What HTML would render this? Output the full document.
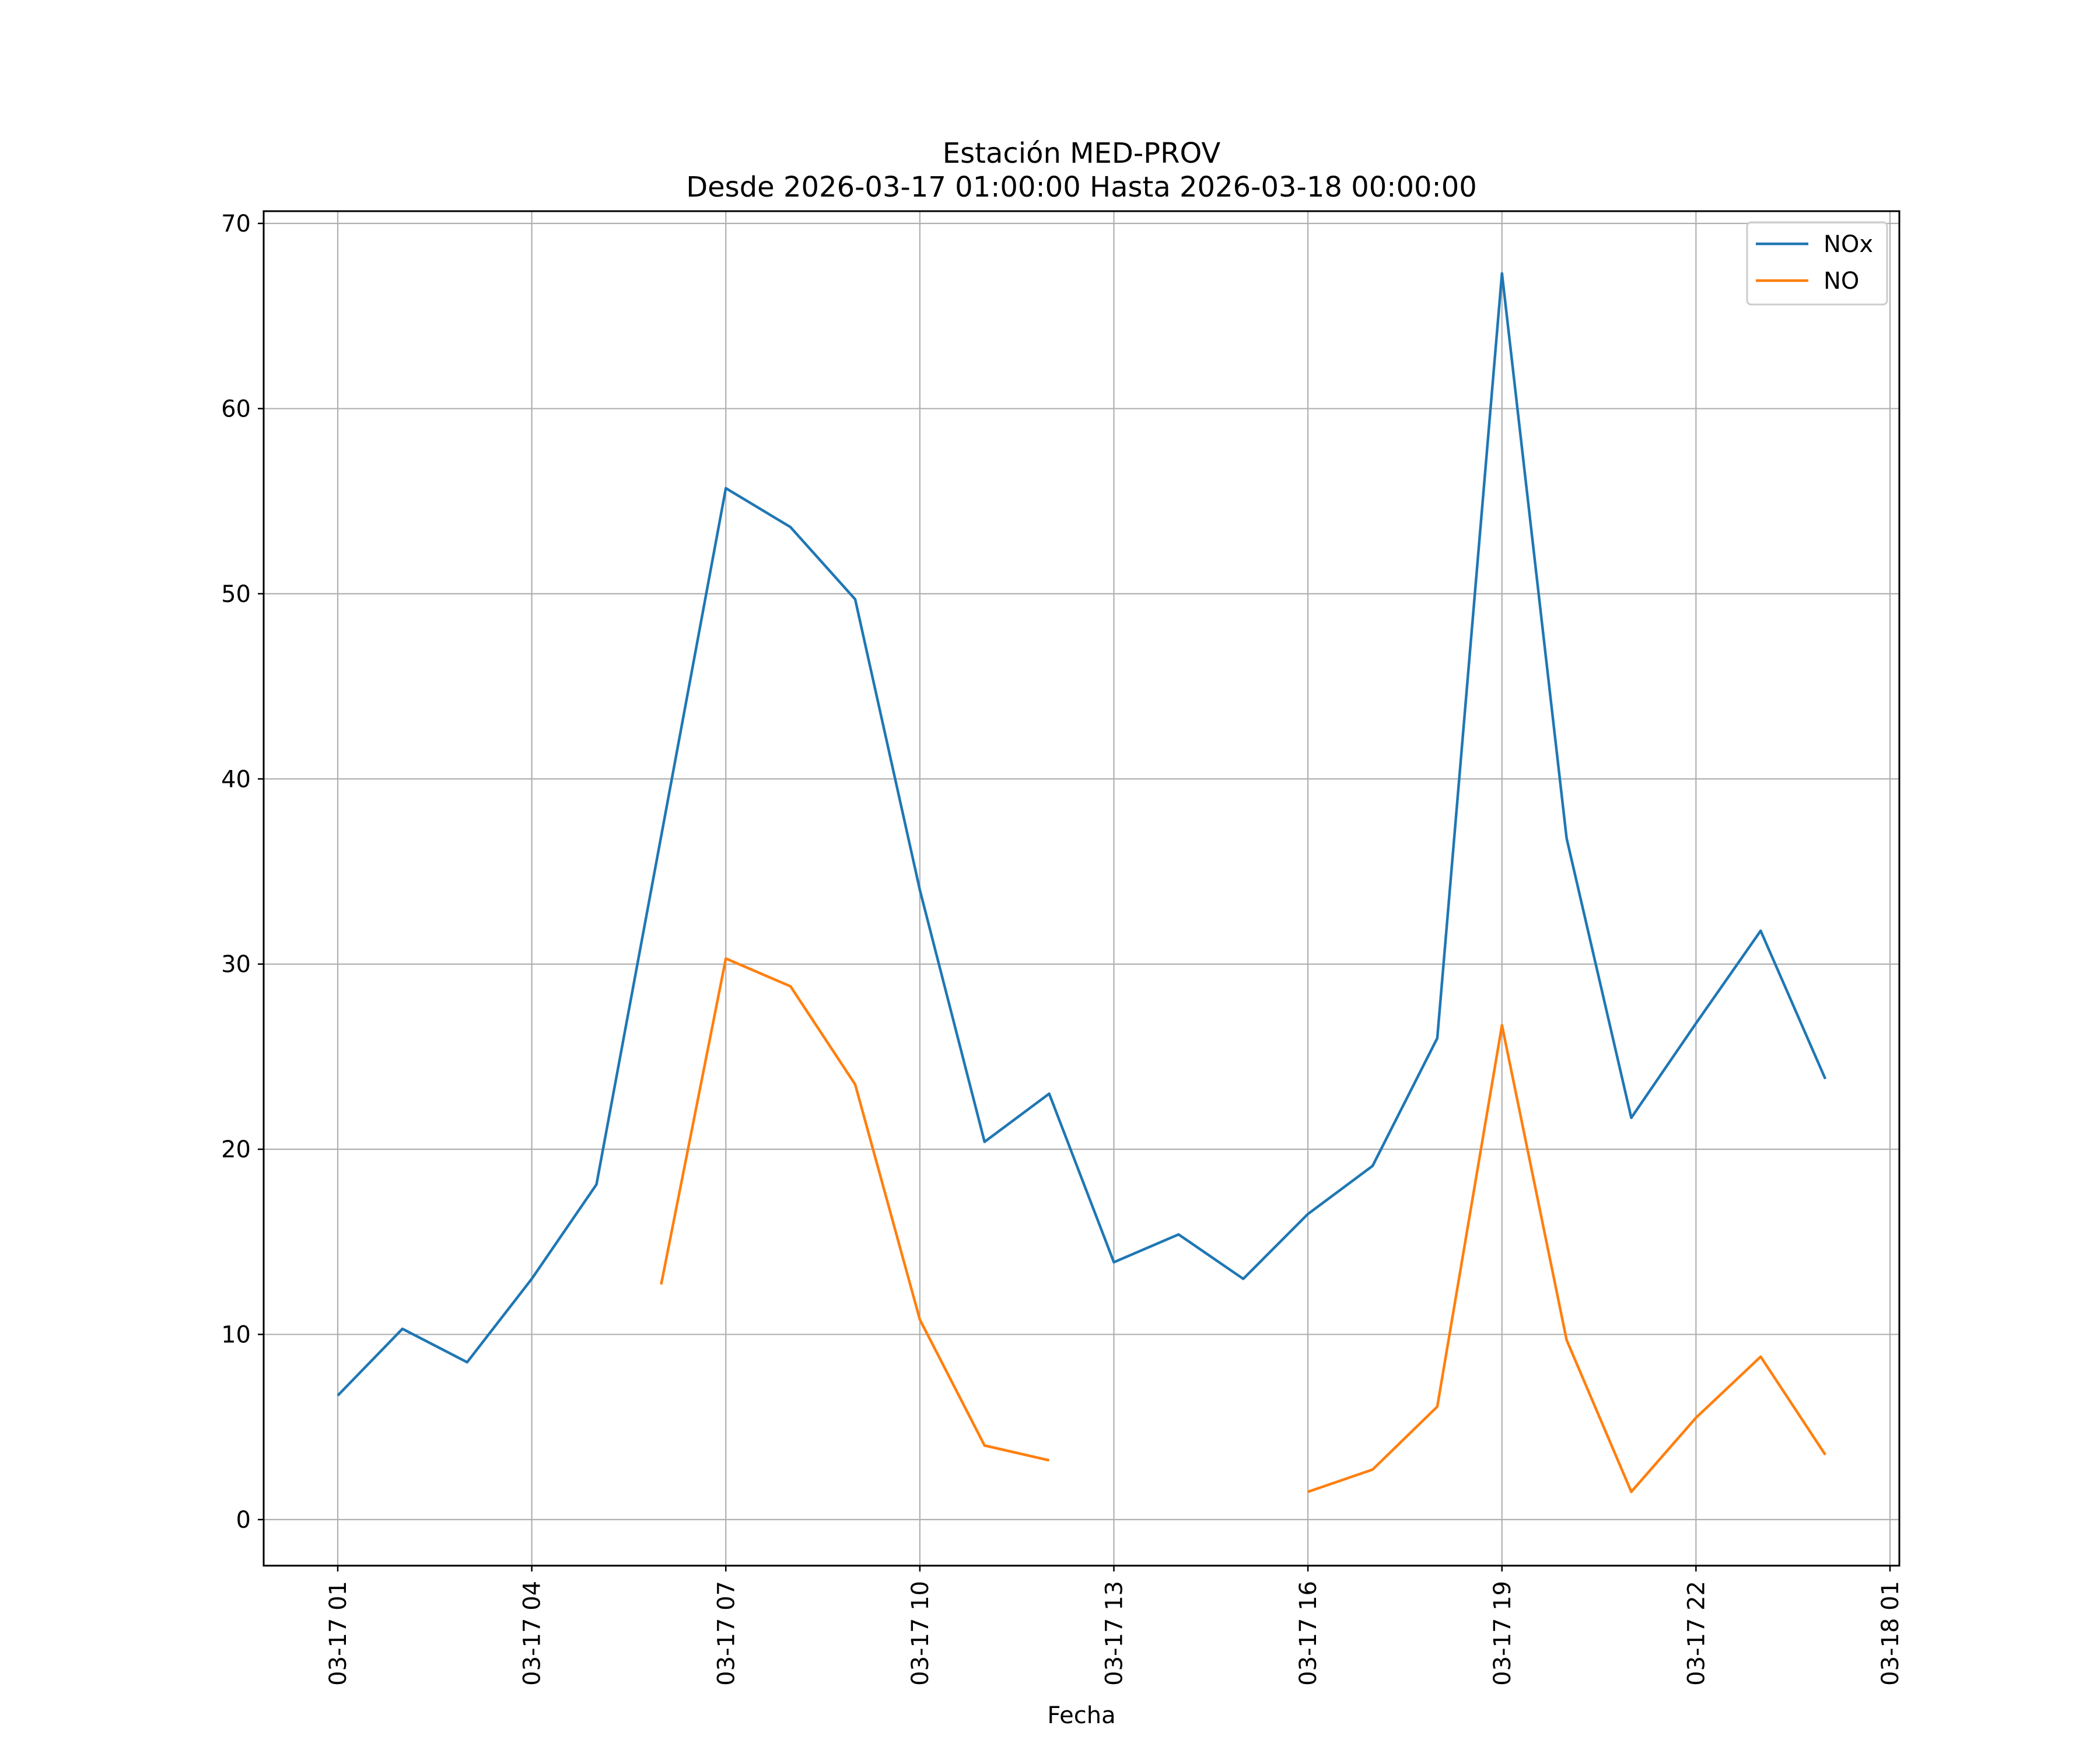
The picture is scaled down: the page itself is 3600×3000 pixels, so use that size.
<!DOCTYPE html>
<html><head><meta charset="utf-8"><style>
html,body{margin:0;padding:0;background:#fff;}
svg{display:block;font-family:"DejaVu Sans","Liberation Sans",sans-serif;}
</style></head><body>
<svg id="chart" width="3600" height="3000" viewBox="0 0 3600 3000" xmlns="http://www.w3.org/2000/svg">
<rect width="3600" height="3000" fill="#fff"/>
<text x="1854" y="279" font-size="48" text-anchor="middle">Estación MED-PROV</text>
<text x="1854" y="337" font-size="48" text-anchor="middle">Desde 2026-03-17 01:00:00 Hasta 2026-03-18 00:00:00</text>
<g id="grid"></g>
<g id="series"></g>
<rect x="452" y="362" width="2804" height="2322" fill="none" stroke="#000" stroke-width="3"/>
<g id="axes"></g>
<text x="1854" y="2954" font-size="40" text-anchor="middle">Fecha</text>
<g>
<rect x="2995" y="381" width="240" height="141" rx="7" fill="#fff" fill-opacity="0.8" stroke="#ccc" stroke-width="3"/>
<line x1="3010" y1="418" x2="3100" y2="418" stroke="#1f77b4" stroke-width="4.5"/>
<text x="3126" y="432" font-size="40">NOx</text>
<line x1="3010" y1="481" x2="3100" y2="481" stroke="#ff7f0e" stroke-width="4.5"/>
<text x="3126" y="495" font-size="40">NO</text>
</g>
</svg>
<script>
const hours = [1,2,3,4,5,6,7,8,9,10,11,12,13,14,15,16,17,18,19,20,21,22,23,24];
const noxValues = [6.7,10.3,8.5,13.0,18.1,36.9,55.7,53.6,49.7,34.0,20.4,23.0,13.9,15.4,13.0,16.5,19.1,26.0,67.3,36.8,21.7,26.8,31.8,23.8];
const noValues = [null,null,null,null,null,12.7,30.3,28.8,23.5,10.8,4.0,3.2,null,null,null,1.5,2.7,6.1,26.7,9.7,1.5,5.5,8.8,3.5];
const yTicks = [0,10,20,30,40,50,60,70];
const xTickHours = [1,4,7,10,13,16,19,22,25];
const xTickLabels = ["03-17 01","03-17 04","03-17 07","03-17 10","03-17 13","03-17 16","03-17 19","03-17 22","03-18 01"];

const L=452,R=3256,T=362,B=2684;
function xs(h){return 579+(h-1)*(3240-579)/24;}
function ys(v){return 2605-v*(2605-383)/70;}
const NS="http://www.w3.org/2000/svg";
function mk(tag,attrs,parent){const e=document.createElementNS(NS,tag);for(const k in attrs)e.setAttribute(k,attrs[k]);parent.appendChild(e);return e;}
const grid=document.getElementById('grid'),axes=document.getElementById('axes'),series=document.getElementById('series');
yTicks.forEach(v=>{
  const y=ys(v);
  const g=mk('line',{x1:L,x2:R,y1:y,y2:y,stroke:'#b0b0b0','stroke-width':2.2},grid);
  
  
  mk('line',{x1:L-10,x2:L,y1:y,y2:y,stroke:'#000','stroke-width':2.5},axes);
  const t=mk('text',{x:L-22,y:y+14,'font-size':40,'text-anchor':'end'},axes);
  
  
  t.textContent=v;
});
xTickHours.forEach((h,i)=>{
  const x=xs(h);
  const g=mk('line',{x1:x,x2:x,y1:T,y2:B,stroke:'#b0b0b0','stroke-width':2.2},grid);
  
  
  mk('line',{x1:x,x2:x,y1:B,y2:B+10,stroke:'#000','stroke-width':2.5},axes);
  const t=mk('text',{x:0,y:0,'font-size':40,'text-anchor':'end',transform:`translate(${x+14},${B+26}) rotate(-90)`},axes);
  
  
  t.textContent=xTickLabels[i];
});
function drawSeries(vals,color,name){
  let segs=[],cur=[];
  vals.forEach((v,i)=>{if(v===null){if(cur.length)segs.push(cur);cur=[];}else cur.push(xs(hours[i]).toFixed(1)+','+ys(v).toFixed(1));});
  if(cur.length)segs.push(cur);
  segs.forEach(s=>{
    const p=mk('polyline',{points:s.join(' '),fill:'none',stroke:color,'stroke-width':4.5,'stroke-linejoin':'round'},series);
    
    
  });
}
drawSeries(noxValues,'#1f77b4','nox-line');
drawSeries(noValues,'#ff7f0e','no-line');
</script>
</body></html>
